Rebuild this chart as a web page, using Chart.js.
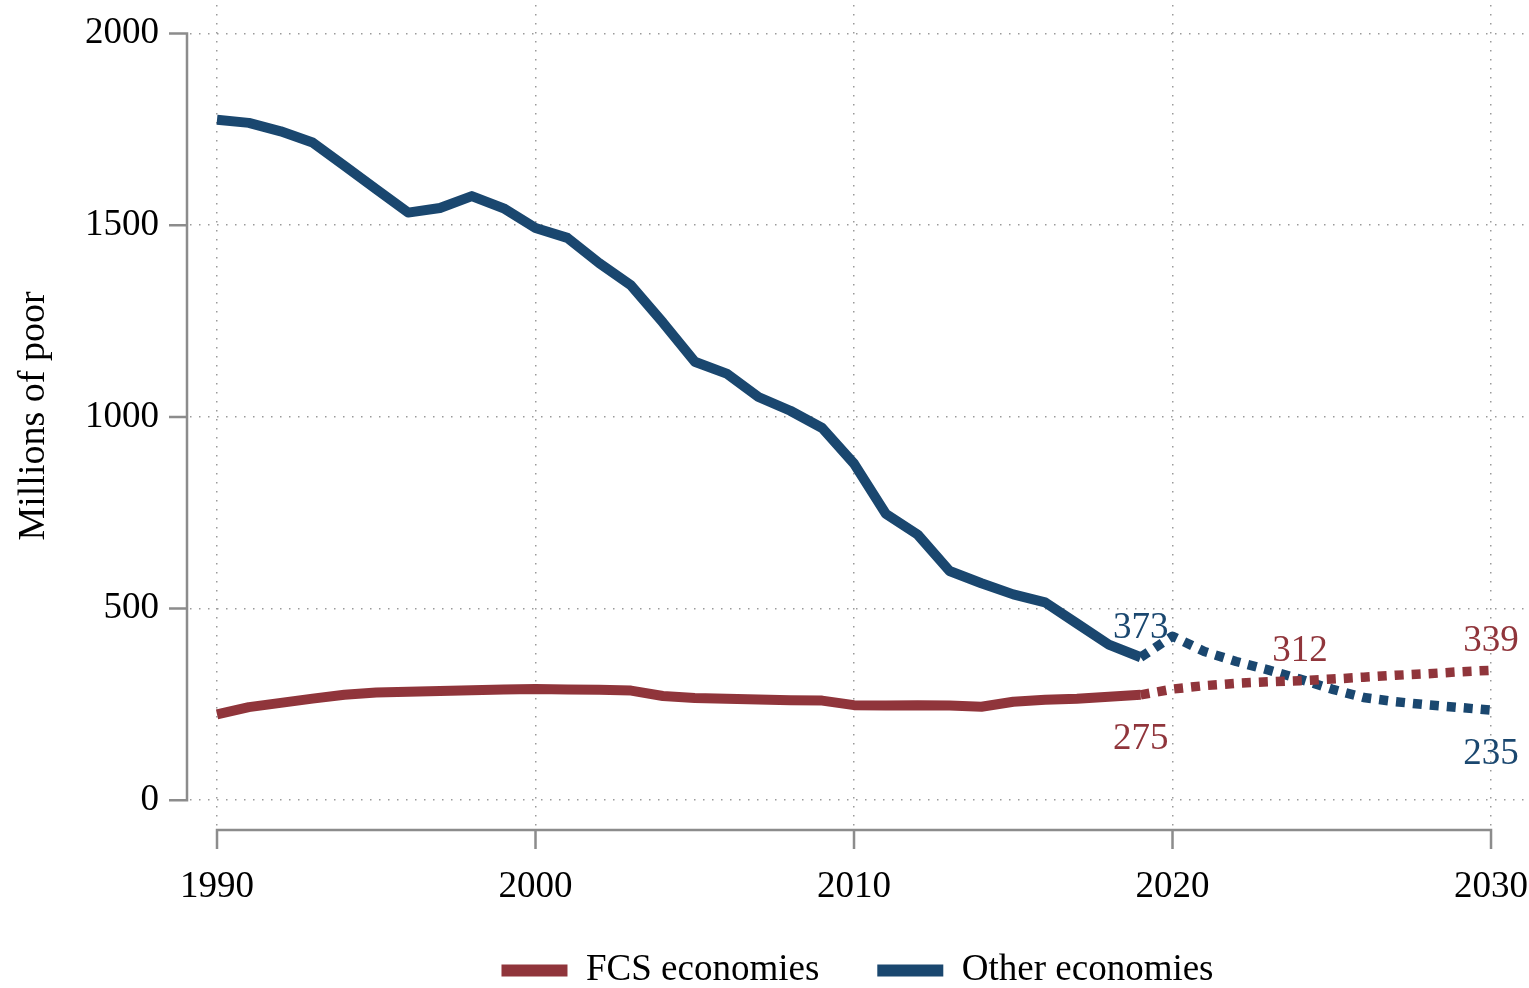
<!DOCTYPE html>
<html>
<head>
<meta charset="utf-8">
<script src="https://cdn.jsdelivr.net/npm/chart.js@4.4.1/dist/chart.umd.min.js"></script>
<style>
  html, body { margin: 0; padding: 0; background: #fff; }
  #wrap { width: 1529px; height: 988px; position: relative; }
</style>
</head>
<body>
<div id="wrap"><canvas id="c"></canvas></div>
<script>
// ---- Data ----
const yearsActual = [1990,1991,1992,1993,1994,1995,1996,1997,1998,1999,2000,2001,2002,2003,2004,2005,2006,2007,2008,2009,2010,2011,2012,2013,2014,2015,2016,2017,2018,2019];
const fcsActual = [224,243,254,265,275,281,283,285,287,289,290,289,288,286,272,267,265,263,261,260,248,247,248,247,244,257,262,265,270,275];
const otherActual = [1775,1767,1745,1716,1655,1594,1533,1545,1576,1544,1493,1467,1401,1343,1246,1144,1113,1052,1016,971,878,747,693,598,566,537,516,461,406,373];

const yearsProj = [2019,2020,2021,2022,2023,2024,2025,2026,2027,2028,2029,2030];
const fcsProj = [275,290,299,305,309,312,316,321,326,330,335,339];
const otherProj = [373,428,388,362,340,316,290,268,257,249,242,235];

const xTickValues = [1990,2000,2010,2020,2030];
const yTickValues = [0,500,1000,1500,2000];

const seriesNames = ['FCS economies','Other economies'];
const fcsLabelYears = [2019, 2024, 2030];
const fcsLabelPlacement = ['below','above','above'];
const otherLabelYears = [2019, 2030];
const otherLabelPlacement = ['above','below'];

// ---- Style ----
const RED = '#90353b';
const BLUE = '#1a476f';
const FONT = '"Liberation Serif", "Times New Roman", serif';

const toPts = (xs, ys) => xs.map((x, i) => ({x: x, y: ys[i]}));

const labelPlugin = {
  id: 'valueLabels',
  afterDatasetsDraw(chart) {
    const ctx = chart.ctx;
    const xs = chart.scales.x, ys = chart.scales.y;
    const drawSet = (years, placement, srcYears, srcVals, color) => {
      years.forEach((yr, i) => {
        const idx = srcYears.indexOf(yr);
        const v = srcVals[idx];
        const px = xs.getPixelForValue(yr);
        const py = ys.getPixelForValue(v);
        const off = placement[i] === 'above' ? -29 : 44;
        ctx.save();
        ctx.font = '37px ' + FONT;
        ctx.fillStyle = color;
        ctx.textAlign = 'center';
        ctx.textBaseline = 'middle';
        ctx.fillText(String(v), px, py + off);
        ctx.restore();
      });
    };
    drawSet(fcsLabelYears, fcsLabelPlacement, yearsProj, fcsProj, RED);
    drawSet(otherLabelYears, otherLabelPlacement, yearsProj, otherProj, BLUE);
  }
};

const axisPlugin = {
  id: 'offsetAxes',
  afterLayout(chart) {
    // let x tick labels overflow into the space above the legend
    chart.scales.x.bottom = chart.height;
  },
  afterDraw(chart) {
    const ctx = chart.ctx;
    const xs = chart.scales.x, ys = chart.scales.y;
    const ca = chart.chartArea;
    ctx.save();
    ctx.strokeStyle = '#8c8c8c';
    ctx.lineWidth = 2.5;
    ctx.lineCap = 'butt';
    // y axis
    const ax = ca.left - 3;
    const y0 = ys.getPixelForValue(yTickValues[0]);
    const y1 = ys.getPixelForValue(yTickValues[yTickValues.length - 1]);
    ctx.beginPath();
    ctx.moveTo(ax, y0 + 1.25); ctx.lineTo(ax, y1 - 1.25);
    yTickValues.forEach(v => {
      const p = ys.getPixelForValue(v);
      ctx.moveTo(ax, p); ctx.lineTo(ax - 18, p);
    });
    ctx.stroke();
    // x axis
    const ay = ca.bottom + 3;
    const x0 = xs.getPixelForValue(xTickValues[0]);
    const x1 = xs.getPixelForValue(xTickValues[xTickValues.length - 1]);
    ctx.beginPath();
    ctx.moveTo(x0 - 1.25, ay); ctx.lineTo(x1 + 1.25, ay);
    xTickValues.forEach(v => {
      const p = xs.getPixelForValue(v);
      ctx.moveTo(p, ay); ctx.lineTo(p, ay + 19);
    });
    ctx.stroke();
    ctx.restore();
  }
};

const lineBase = {
  pointRadius: 0,
  pointHoverRadius: 0,
  tension: 0,
  fill: false,
  borderJoinStyle: 'round',
  borderCapStyle: 'butt'
};

new Chart(document.getElementById('c'), {
  type: 'line',
  data: {
    datasets: [
      Object.assign({}, lineBase, { label: seriesNames[0], data: toPts(yearsActual, fcsActual), borderColor: RED, backgroundColor: RED, borderWidth: 10 }),
      Object.assign({}, lineBase, { label: seriesNames[0] + ' (projection)', data: toPts(yearsProj, fcsProj), borderColor: RED, backgroundColor: RED, borderWidth: 9.5, borderDash: [9, 8] }),
      Object.assign({}, lineBase, { label: seriesNames[1], data: toPts(yearsActual, otherActual), borderColor: BLUE, backgroundColor: BLUE, borderWidth: 10 }),
      Object.assign({}, lineBase, { label: seriesNames[1] + ' (projection)', data: toPts(yearsProj, otherProj), borderColor: BLUE, backgroundColor: BLUE, borderWidth: 9.5, borderDash: [9, 8] })
    ]
  },
  options: {
    responsive: true,
    maintainAspectRatio: false,
    animation: false,
    events: [],
    layout: { padding: { top: 5, right: 4, left: 0, bottom: 0 } },
    scales: {
      x: {
        type: 'linear',
        min: 1989.152,
        max: 2031.067,
        afterBuildTicks: s => { s.ticks = xTickValues.map(v => ({ value: v })); },
        afterFit: s => { s.height = 67; s.paddingLeft = 0; s.paddingRight = 0; },
        ticks: {
          padding: 38,
          color: '#000',
          font: { family: FONT, size: 37 },
          maxRotation: 0,
          callback: v => String(v)
        },
        grid: { color: '#9a9a9a', lineWidth: 1.5, drawTicks: false },
        border: { display: false, dash: [1.5, 7.5] }
      },
      y: {
        type: 'linear',
        min: -69.8,
        max: 2074.5,
        afterBuildTicks: s => { s.ticks = yTickValues.map(v => ({ value: v })); },
        afterFit: s => { s.width = 190; s.paddingTop = 0; s.paddingBottom = 0; },
        ticks: {
          padding: 31,
          color: '#000',
          font: { family: FONT, size: 37 },
          callback: v => String(v)
        },
        grid: { color: '#9a9a9a', lineWidth: 1.5, drawTicks: false },
        border: { display: false, dash: [1.5, 7.5] },
        title: {
          display: true,
          text: 'Millions of poor',
          color: '#000',
          font: { family: FONT, size: 38 },
          padding: { top: 11, bottom: 0 }
        }
      }
    },
    plugins: {
      tooltip: { enabled: false },
      legend: {
        position: 'bottom',
        fullSize: false,
        maxHeight: 94,
        labels: {
          color: '#000',
          font: { family: FONT, size: 37 },
          boxWidth: 66,
          boxHeight: 12,
          padding: 58,
          generateLabels: chart => Chart.defaults.plugins.legend.labels.generateLabels(chart)
            .filter(l => l.datasetIndex === 0 || l.datasetIndex === 2)
            .map(l => Object.assign({}, l, { lineWidth: 0, fillStyle: l.strokeStyle, lineDash: [] }))
        }
      }
    }
  },
  plugins: [labelPlugin, axisPlugin]
});
</script>
</body>
</html>
